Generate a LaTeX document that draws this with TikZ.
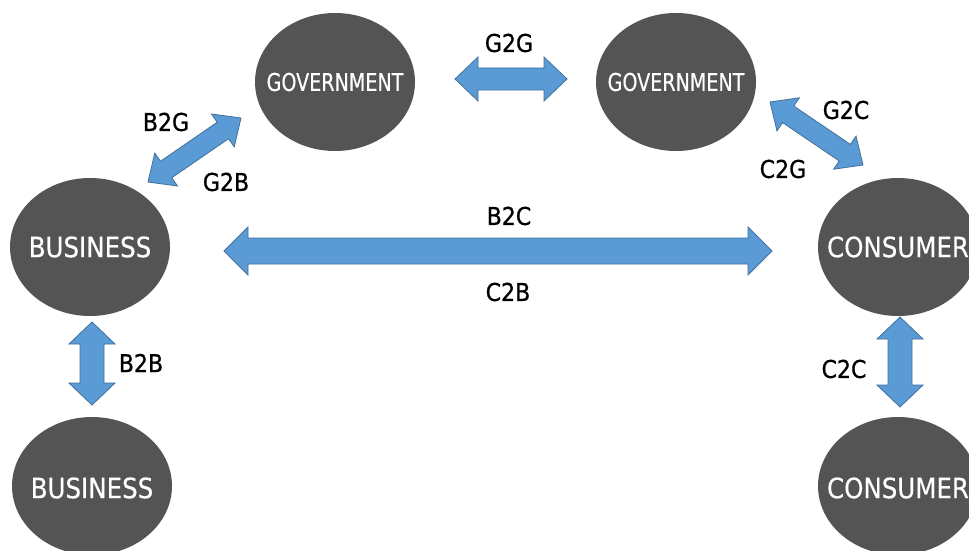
\documentclass[tikz,border=0pt]{standalone}
\usepackage{fontspec}
\setmainfont{DejaVu Sans}
\newfontfamily\labelfont{DejaVu Sans}[FakeStretch=0.9, FakeBold=0.8]
\newfontfamily\partyfont{DejaVu Sans}[FakeStretch=0.875, FakeBold=0.3]
\newfontfamily\govfont{DejaVu Sans}[FakeStretch=0.78, FakeBold=0.3]
\usetikzlibrary{shapes.geometric,calc}

\definecolor{partygrey}{HTML}{545454}
\definecolor{arrowblue}{HTML}{5B9BD5}
\definecolor{arrowedge}{HTML}{41719C}

\tikzset{
  party/.style={ellipse, fill=partygrey, draw=none, minimum width=160pt,
    minimum height=138pt, inner sep=0pt},
  partyname/.style={inner sep=0pt, text=white},
  business/.style={partyname, font=\partyfont\fontsize{28}{28}\selectfont},
  government/.style={partyname, font=\govfont\fontsize{24.5}{24.5}\selectfont},
  flowlabel/.style={inner sep=0pt, text=black, font=\labelfont\fontsize{24.5}{24.5}\selectfont},
  blockarrow/.style={fill=arrowblue, draw=arrowedge, line width=0.8pt, line join=miter}
}

% Two-headed block arrow between two named tips:
% #1, #2 tips; #3 head length; #4 head half-width; #5 shaft half-width
\newcommand\blockarrow[5]{%
  \coordinate (ba-p) at ($(#1)!#3!(#2)$);
  \coordinate (ba-q) at ($(#2)!#3!(#1)$);
  \filldraw[blockarrow] (#1)
    -- ($(ba-p)!#4!90:(#2)$) -- ($(ba-p)!#5!90:(#2)$)
    -- ($(ba-q)!#5!-90:(#1)$) -- ($(ba-q)!#4!-90:(#1)$)
    -- (#2)
    -- ($(ba-q)!#4!90:(#1)$) -- ($(ba-q)!#5!90:(#1)$)
    -- ($(ba-p)!#5!-90:(#2)$) -- ($(ba-p)!#4!-90:(#2)$)
    -- cycle;
}

\begin{document}
\begin{tikzpicture}[x=1pt, y=-1pt]
  \useasboundingbox[fill=white] (0,0) rectangle (969,551);

  % parties: fixed-size ellipses with their names set on top
  \node[party] (govL) at (335,82) {};
  \node[party] (govR) at (676,82) {};
  \node[party] (bizT) at (90,247) {};
  \node[party] (bizB) at (92,486) {};
  \node[party] (conT) at (898,247) {};
  \node[party] (conB) at (898,486) {};
  \node[government] (govL-name) at (govL) {GOVERNMENT};
  \node[government] (govR-name) at (govR) {GOVERNMENT};
  \node[business] (bizT-name) at (bizT) {BUSINESS};
  \node[business] (bizB-name) at ([yshift=-2pt]bizB) {BUSINESS};
  \node[business] (conT-name) at (conT) {CONSUMER};
  \node[business] (conB-name) at ([yshift=-2pt]conB) {CONSUMER};

  % arrow tips
  \coordinate (g2g-a) at (455,79);
  \coordinate (g2g-b) at (567,79);
  \coordinate (b2c-a) at (224,251);
  \coordinate (b2c-b) at (772,251);
  \coordinate (b2g-a) at (148,182);
  \coordinate (b2g-b) at (241,118);
  \coordinate (g2c-a) at (770,102);
  \coordinate (g2c-b) at (863,165);
  \coordinate (b2b-a) at (92,322);
  \coordinate (b2b-b) at (92,405);
  \coordinate (c2c-a) at (900,317);
  \coordinate (c2c-b) at (900,407);

  % exchanges
  \blockarrow{g2g-a}{g2g-b}{23pt}{22pt}{11pt}
  \blockarrow{b2c-a}{b2c-b}{24pt}{24pt}{13pt}
  \blockarrow{b2g-a}{b2g-b}{22pt}{20pt}{10pt}
  \blockarrow{g2c-a}{g2c-b}{22pt}{20pt}{10pt}
  \blockarrow{b2b-a}{b2b-b}{22pt}{23pt}{12pt}
  \blockarrow{c2c-a}{c2c-b}{22pt}{23pt}{12pt}

  % labels
  \node[flowlabel] (l-g2g) at (509,43) {G2G};
  \node[flowlabel] (l-b2g) at (166,122) {B2G};
  \node[flowlabel] (l-g2b) at (226,182) {G2B};
  \node[flowlabel] (l-g2c) at (846,110) {G2C};
  \node[flowlabel] (l-c2g) at (783,169) {C2G};
  \node[flowlabel] (l-b2c) at (509,216) {B2C};
  \node[flowlabel] (l-c2b) at (508,292) {C2B};
  \node[flowlabel] (l-b2b) at (141,363) {B2B};
  \node[flowlabel] (l-c2c) at (844,369) {C2C};
\end{tikzpicture}
\end{document}
